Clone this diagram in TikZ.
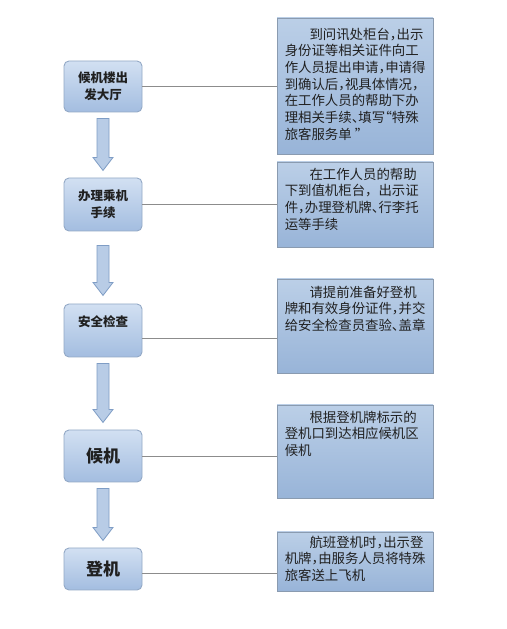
\documentclass[tikz,border=0pt]{standalone}
\usepackage{fontspec}
\setmainfont{Noto Sans CJK SC}
\definecolor{rtop}{HTML}{BBCFE7}
\definecolor{rbot}{HTML}{98B4D8}
\definecolor{rborder}{HTML}{8A9BB0}
\definecolor{ltop}{HTML}{D2E0F2}
\definecolor{lbot}{HTML}{A3BDE0}
\definecolor{lborder}{HTML}{93A9C6}
\definecolor{arrfill}{HTML}{B8CCE6}
\definecolor{arrborder}{HTML}{7F9DC5}
\definecolor{txt}{HTML}{202020}
\definecolor{conn}{HTML}{8C8C8C}
\newcommand\hp[1]{\makebox[0.5em][l]{#1}}
\newcommand\hq[1]{\makebox[0.5em][r]{#1}}
\tikzset{
  lbox/.style={draw=lborder, line width=0.9pt, rounded corners=5pt, top color=ltop, bottom color=lbot,
    minimum width=78pt, inner sep=0pt, align=center, text=txt, font=\bfseries\fontsize{12.5}{17}\selectfont},
  lbig/.style={font=\bfseries\fontsize{17}{20}\selectfont},
  rbox/.style={draw=rborder, line width=0.9pt, top color=rtop, bottom color=rbot, minimum width=156pt, inner sep=0pt},
  rtext/.style={anchor=north west, inner sep=0pt, align=left, text=txt, font=\fontsize{13.4}{16.7}\selectfont},
  connline/.style={draw=conn, line width=0.8pt},
  arrsty/.style={draw=arrborder, line width=0.8pt, fill=arrfill, line join=miter},
  pics/downarr/.style={code={\draw[arrsty] (-6,0) -- (6,0) -- (6,-#1+13) -- (10,-#1+13) -- (0,-#1) -- (-10,-#1+13) -- (-6,-#1+13) -- cycle;}}
}
\begin{document}
\begin{tikzpicture}[x=1pt,y=1pt]
\path[fill=white] (0,0) rectangle (506,629);
\useasboundingbox (0,0) rectangle (506,629);
% left boxes
\node[lbox, minimum height=51pt] (l1) at (103,542.5) {候机楼出\\发大厅};
\node[lbox, minimum height=53pt] (l2) at (103,424.5) {办理乘机\\手续};
\node[lbox, minimum height=53pt] (l3) at (103,298.5) {安全检查\\\phantom{安}};
\node[lbox, lbig, minimum height=52pt] (l4) at (103,173) {候机};
\node[lbox, lbig, minimum height=42pt] (l5) at (103,60) {登机};
% right boxes
\node[rbox, minimum height=136pt] (r1) at (355,543) {};
\node[rbox, minimum height=85pt] (r2) at (355,424.5) {};
\node[rbox, minimum height=94pt] (r3) at (355,303) {};
\node[rbox, minimum height=93pt] (r4) at (355,177.5) {};
\node[rbox, minimum height=59pt] (r5) at (355,67.5) {};
% right texts
\node[rtext] (t1) at ([shift={(8,-10)}]r1.north west) {\hspace*{1.85em}到问讯处柜台\hp{，}出示\\身份证等相关证件向工\\作人员提出申请\hp{，}申请得\\到确认后\hp{，}视具体情况\hp{，}\\在工作人员的帮助下办\\理相关手续\hp{、}填写\hq{“}特殊\\旅客服务单 \hp{”}};
\node[rtext] (t2) at ([shift={(8,-6)}]r2.north west) {\hspace*{1.85em}在工作人员的帮助\\下到值机柜台，出示证\\件\hp{，}办理登机牌\hp{、}行李托\\运等手续};
\node[rtext] (t3) at ([shift={(8,-7)}]r3.north west) {\hspace*{1.85em}请提前准备好登机\\牌和有效身份证件\hp{，}并交\\给安全检查员查验\hp{、}盖章};
\node[rtext] (t4) at ([shift={(8,-6)}]r4.north west) {\hspace*{1.85em}根据登机牌标示的\\登机口到达相应候机区\\候机};
\node[rtext] (t5) at ([shift={(8,-4)}]r5.north west) {\hspace*{1.85em}航班登机时\hp{，}出示登\\机牌\hp{，}由服务人员将特殊\\旅客送上飞机};
% connectors
\draw[connline] (l1.east) -- (l1.east -| r1.west);
\draw[connline] (l2.east) -- (l2.east -| r2.west);
\draw[connline] ([yshift=-7.5]l3.east) -- ([yshift=-7.5]l3.east -| r3.west);
\draw[connline] (l4.east) -- (l4.east -| r4.west);
\draw[connline] ([yshift=-4]l5.east) -- ([yshift=-4]l5.east -| r5.west);
% block arrows
\pic (a1) at ([yshift=-6]l1.south) {downarr=52};
\pic (a2) at ([yshift=-14]l2.south) {downarr=50};
\pic (a3) at ([yshift=-6]l3.south) {downarr=59};
\pic (a4) at ([yshift=-6]l4.south) {downarr=52};
\end{tikzpicture}
\end{document}
